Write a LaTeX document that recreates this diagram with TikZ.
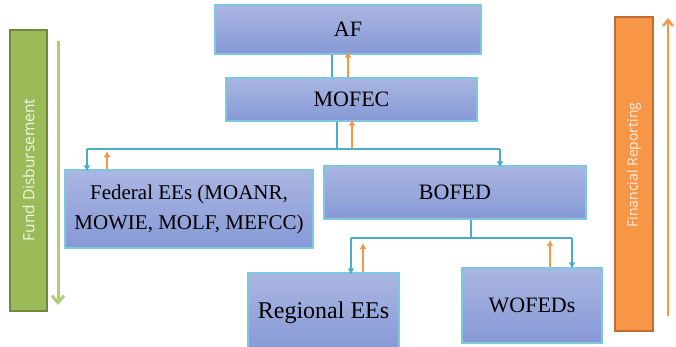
\documentclass[tikz,border=0pt]{standalone}
\usepackage{fontspec}
\setmainfont{Liberation Serif}
\newfontfamily\barfont{Open Sans}
\usetikzlibrary{arrows.meta,calc}
\definecolor{boxtop}{RGB}{170,182,226}
\definecolor{boxbot}{RGB}{134,153,214}
\definecolor{boxline}{RGB}{125,200,222}
\definecolor{conn}{RGB}{75,172,198}
\definecolor{orng}{RGB}{247,150,70}
\definecolor{orngdark}{RGB}{190,110,50}
\definecolor{grn}{RGB}{155,187,89}
\definecolor{grndark}{RGB}{113,137,63}
\definecolor{grnlight}{RGB}{176,204,118}
\tikzset{
  box/.style={rectangle, draw=boxline, line width=1.2pt, top color=boxtop, bottom color=boxbot, inner sep=0pt, align=center, font=\fontsize{22}{30}\selectfont},
  sidebar/.style={rectangle, line width=1.5pt, inner sep=0pt},
  bluel/.style={draw=conn, line width=2.2pt},
  bluearr/.style={draw=conn, line width=2.2pt, -{Latex[length=6pt,width=7pt]}},
  orarr/.style={draw=orng, line width=2.2pt, -{Latex[length=6pt,width=7pt]}},
  bartext/.style={text=white, text opacity=0.85, font=\barfont\fontsize{15}{18}\selectfont, rotate=90}
}
\begin{document}
\begin{tikzpicture}[x=1pt,y=-1pt]
\useasboundingbox (0,0) rectangle (676,346);
\clip (0,0) rectangle (676,346);
% boxes
\node[box, minimum width=266pt, minimum height=49pt] (AF) at (348,29.5) {AF};
\node[box, minimum width=251pt, minimum height=43pt] (MOFEC) at (351.5,99.5) {MOFEC};
\node[box, minimum width=248pt, minimum height=78pt, font=\fontsize{21}{30}\selectfont] (FED) at (189,209) {Federal EEs (MOANR,\\MOWIE, MOLF, MEFCC)};
\node[box, minimum width=262pt, minimum height=53pt] (BOFED) at (455,192.5) {BOFED};
\node[box, minimum width=151pt, minimum height=80pt, font=\fontsize{24}{30}\selectfont] (REG) at (323.5,313) {\raisebox{4pt}{Regional EEs}};
\node[box, minimum width=140pt, minimum height=75pt] (WOF) at (532,305.5) {WOFEDs};
% side bars
\node[sidebar, fill=grn, draw=grndark, minimum width=37pt, minimum height=281pt] (GB) at (28.5,170.5) {};
\node[bartext, font=\barfont\fontsize{15.5}{18}\selectfont] (GT) at (28.5,170) {Fund Disbursement};
\node[sidebar, fill=orng, draw=orngdark, minimum width=38pt, minimum height=314pt] (OB) at (634,174) {};
\node[bartext, font=\barfont\fontsize{14}{18}\selectfont] (OT) at (634,165) {Financial Reporting};
\coordinate (gtop) at (58,41);
\coordinate (gbot) at (58,305);
\draw[draw=grnlight, line width=3pt, -{Straight Barb[length=7pt,width=12pt]}] (gtop) -- (gbot);
\coordinate (otop) at (668,18);
\coordinate (obot) at (668,316);
\draw[draw=orng, line width=2.5pt, -{Straight Barb[length=6pt,width=10pt]}] (obot) -- (otop);
% AF - MOFEC
\draw[bluel] ([xshift=-16pt]AF.south) -- ([xshift=-16pt]AF.south |- MOFEC.north);
\draw[orarr] (AF.south |- MOFEC.north) -- ([yshift=3pt]AF.south);
% MOFEC - level 2
\coordinate (h1) at (337,149);
\coordinate (hl) at (87,149);
\coordinate (hr) at (500,149);
\draw[bluel] (h1 |- MOFEC.south) -- (h1);
\draw[draw=conn, line width=1.8pt] (hl) -- (hr);
\draw[bluearr] (hl) -- ([yshift=-2pt]hl |- FED.north);
\draw[bluearr] (hr) -- ([yshift=-2pt]hr |- BOFED.north);
\coordinate (o1) at (352,149);
\draw[orarr] (o1) -- ([yshift=2pt]o1 |- MOFEC.south);
\coordinate (o2) at (107,151);
\draw[orarr] (o2 |- FED.north) -- (o2);
% BOFED - level 3
\coordinate (h2) at (471,238);
\coordinate (hl2) at (351,238);
\coordinate (hr2) at (572,238);
\draw[draw=conn, line width=1.8pt] (h2 |- BOFED.south) -- (h2);
\draw[draw=conn, line width=1.8pt] (hl2) -- (hr2);
\draw[bluearr] (hl2) -- ([yshift=-2pt]hl2 |- REG.north);
\draw[bluearr] (hr2) -- ([yshift=-1pt]hr2 |- WOF.north);
\coordinate (o3) at (363,243);
\draw[orarr] (o3 |- REG.north) -- (o3);
\coordinate (o4) at (550,240);
\draw[orarr] (o4 |- WOF.north) -- (o4);
\end{tikzpicture}
\end{document}
